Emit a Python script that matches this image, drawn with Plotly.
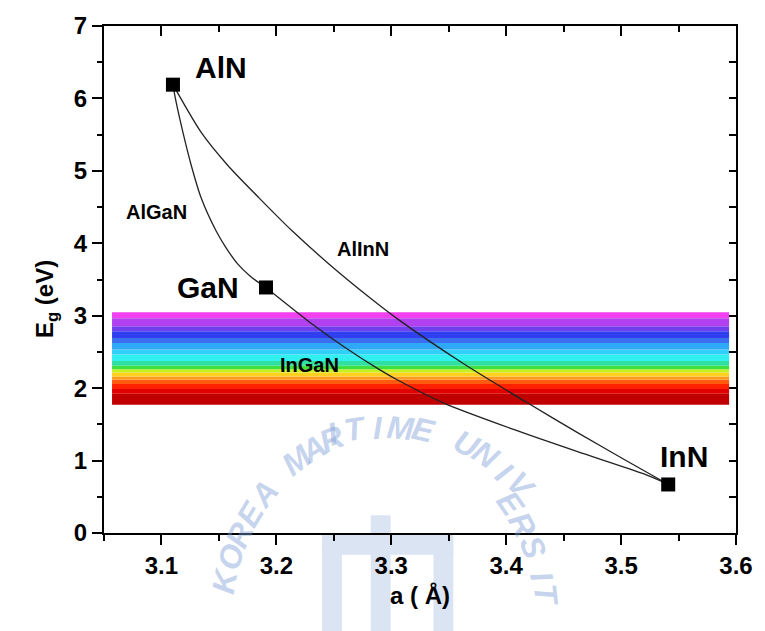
import math
import plotly.graph_objects as go

# ---------------- data ----------------
binary_names = ["AlN", "GaN", "InN"]
binary_a = [3.110, 3.191, 3.541]
binary_eg = [6.19, 3.39, 0.67]

algan_a = [3.1100, 3.1123, 3.1187, 3.1259, 3.1346, 3.1476, 3.1561, 3.1663, 3.1773, 3.1909]
algan_eg = [6.191, 5.986, 5.531, 5.078, 4.624, 4.169, 3.941, 3.715, 3.545, 3.388]

alinn_a = [3.1100, 3.1346, 3.1576, 3.1851, 3.2139, 3.2457, 3.2803, 3.3063,
           3.3640, 3.4188, 3.4621, 3.5054, 3.5409]
alinn_eg = [6.191, 5.531, 5.078, 4.624, 4.169, 3.715, 3.262, 2.946,
            2.326, 1.794, 1.386, 0.990, 0.673]

ingan_a = [3.1909, 3.2284, 3.2601, 3.2890, 3.3063, 3.3467, 3.4044, 3.4621, 3.5199, 3.5409]
ingan_eg = [3.388, 2.917, 2.557, 2.263, 2.105, 1.786, 1.441, 1.124, 0.815, 0.673]

# visible-spectrum band (eV edges, bottom -> top) and its stripe colours
band_a = [3.057, 3.594]
band_edges = [1.771, 1.921, 1.989, 2.057, 2.117, 2.162, 2.217, 2.262, 2.308,
              2.376, 2.466, 2.534, 2.625, 2.694, 2.785, 2.853, 2.966, 3.048]
band_colors = ["#c00000", "#e00000", "#ff2000", "#ff5a10", "#ff9a20", "#ffd020",
               "#c8f020", "#40e040", "#30e0a0", "#30f0f0", "#30d0f8", "#30a8f8",
               "#3a70f0", "#3040f0", "#7040f0", "#b040f0", "#f040f0"]

alloy_labels = ["AlGaN", "AlInN", "InGaN"]
alloy_label_a = [3.0956, 3.2751, 3.229]
alloy_label_eg = [4.43, 3.916, 2.319]
binary_label_a = [3.1517, 3.1409, 3.5545]
binary_label_eg = [6.43, 3.39, 1.05]

x_ticks = [3.1, 3.2, 3.3, 3.4, 3.5, 3.6]
y_ticks = [0, 1, 2, 3, 4, 5, 6, 7]
x_range = [3.05, 3.6]
y_range = [0, 7]

watermark_text = "KOREA MARITIME UNIVERSITY"

FONT = "Liberation Sans, Arial, sans-serif"

# figure geometry (pixels)
W, H = 765, 631
ML, MR, MT, MB = 104, 26, 19, 98
PW, PH = W - ML - MR, H - MT - MB


def px2paper(px, py):
    return (px - ML) / PW, (H - MB - py) / PH


fig = go.Figure()

shapes = []
# watermark logo (faint, behind everything)
wm_fill = "#dbe4f3"
for (x0, y0, x1, y1) in [(323, 545, 343, 640), (323, 535, 455, 555), (372, 515, 392, 640), (435, 545, 455, 640)]:
    a0, b0 = px2paper(x0, y0)
    a1, b1 = px2paper(x1, y1)
    shapes.append(dict(type="rect", xref="paper", yref="paper", x0=a0, x1=a1, y0=b1, y1=b0,
                       fillcolor=wm_fill, line=dict(width=0), layer="below"))

# spectrum stripes
for i, c in enumerate(band_colors):
    shapes.append(dict(type="rect", xref="x", yref="y", x0=band_a[0], x1=band_a[1],
                       y0=band_edges[i], y1=band_edges[i + 1], fillcolor=c,
                       line=dict(width=0), layer="below"))

for xs, ys in [(algan_a, algan_eg), (alinn_a, alinn_eg), (ingan_a, ingan_eg)]:
    fig.add_trace(go.Scatter(x=xs, y=ys, mode="lines",
                             line=dict(color="#222222", width=1.3, shape="spline", smoothing=0.7),
                             showlegend=False, hoverinfo="skip"))

fig.add_trace(go.Scatter(x=binary_a, y=binary_eg, mode="markers",
                         marker=dict(symbol="square", size=14, color="black"),
                         showlegend=False))

# dummy trace for the top/right axes
fig.add_trace(go.Scatter(x=[x_range[0]], y=[y_range[0]], xaxis="x2", yaxis="y2",
                         mode="markers", marker=dict(opacity=0), showlegend=False, hoverinfo="skip"))

annotations = []
# watermark letters along an arc (letters that would fall off the page are left out)
cx, cy, R = 385, 632, 185
n = len(watermark_text)
phi0, phi1 = 170.0, -0.8
for i, ch in enumerate(watermark_text):
    if ch == " ":
        continue
    phi = phi0 - i * (phi0 - phi1) / (n - 1)
    px = cx + R * math.cos(math.radians(phi))
    py = cy - R * math.sin(math.radians(phi))
    if py > 616:
        continue
    ax, ay = px2paper(px, py)
    annotations.append(dict(x=ax, y=ay, xref="paper", yref="paper", text="<b><i>%s</i></b>" % ch,
                            showarrow=False, textangle=90 - phi,
                            font=dict(family=FONT, size=32, color="rgba(125,158,215,0.45)")))

for t, xa, ya in zip(binary_names, binary_label_a, binary_label_eg):
    annotations.append(dict(x=xa, y=ya, xref="x", yref="y", text="<b>%s</b>" % t, showarrow=False,
                            font=dict(family=FONT, size=30, color="black")))
for t, xa, ya in zip(alloy_labels, alloy_label_a, alloy_label_eg):
    annotations.append(dict(x=xa, y=ya, xref="x", yref="y", text="<b>%s</b>" % t, showarrow=False,
                            font=dict(family=FONT, size=20, color="black")))

tx, ty = px2paper(422, 612)
annotations.append(dict(x=tx, y=ty, xref="paper", yref="paper", text="<b>a ( Å)</b>",
                        showarrow=False, font=dict(family=FONT, size=24, color="black")))
tx, ty = px2paper(28, 296)
annotations.append(dict(x=tx, y=ty, xref="paper", yref="paper",
                        text="<b>E<sub>g</sub> (eV)</b>", textangle=-90,
                        showarrow=False, font=dict(family=FONT, size=24, color="black")))

tickfont = dict(family=FONT, size=24, color="black", weight="bold")

fig.update_layout(
    width=W, height=H,
    margin=dict(l=ML, r=MR, t=MT, b=MB),
    paper_bgcolor="white", plot_bgcolor="rgba(0,0,0,0)",
    shapes=shapes, annotations=annotations,
    xaxis=dict(range=x_range, tickvals=x_ticks, ticktext=[str(v) for v in x_ticks],
               ticks="outside", ticklen=10, tickwidth=2, tickcolor="black",
               minor=dict(ticks="outside", ticklen=6, tickwidth=2, tickcolor="black", dtick=0.05, tick0=3.05),
               showline=True, linewidth=2, linecolor="black", showgrid=False, zeroline=False,
               tickfont=tickfont),
    yaxis=dict(range=y_range, tickvals=y_ticks,
               ticks="outside", ticklen=10, tickwidth=2, tickcolor="black",
               minor=dict(ticks="outside", ticklen=5, tickwidth=2, tickcolor="black", dtick=0.5, tick0=0),
               showline=True, linewidth=2, linecolor="black", showgrid=False, zeroline=False,
               tickfont=tickfont),
    xaxis2=dict(overlaying="x", side="top", range=x_range, tickvals=x_ticks,
                ticks="inside", ticklen=10, tickwidth=2, tickcolor="black", showticklabels=False,
                minor=dict(ticks="inside", ticklen=6, tickwidth=2, tickcolor="black", dtick=0.05, tick0=3.05),
                showline=True, linewidth=2, linecolor="black", showgrid=False, zeroline=False),
    yaxis2=dict(overlaying="y", side="right", range=y_range, tickvals=y_ticks,
                ticks="inside", ticklen=7, tickwidth=2, tickcolor="black", showticklabels=False,
                minor=dict(ticks="inside", ticklen=7, tickwidth=2, tickcolor="black", dtick=0.5, tick0=0),
                showline=True, linewidth=2, linecolor="black", showgrid=False, zeroline=False),
)

fig.write_html("out.html")
